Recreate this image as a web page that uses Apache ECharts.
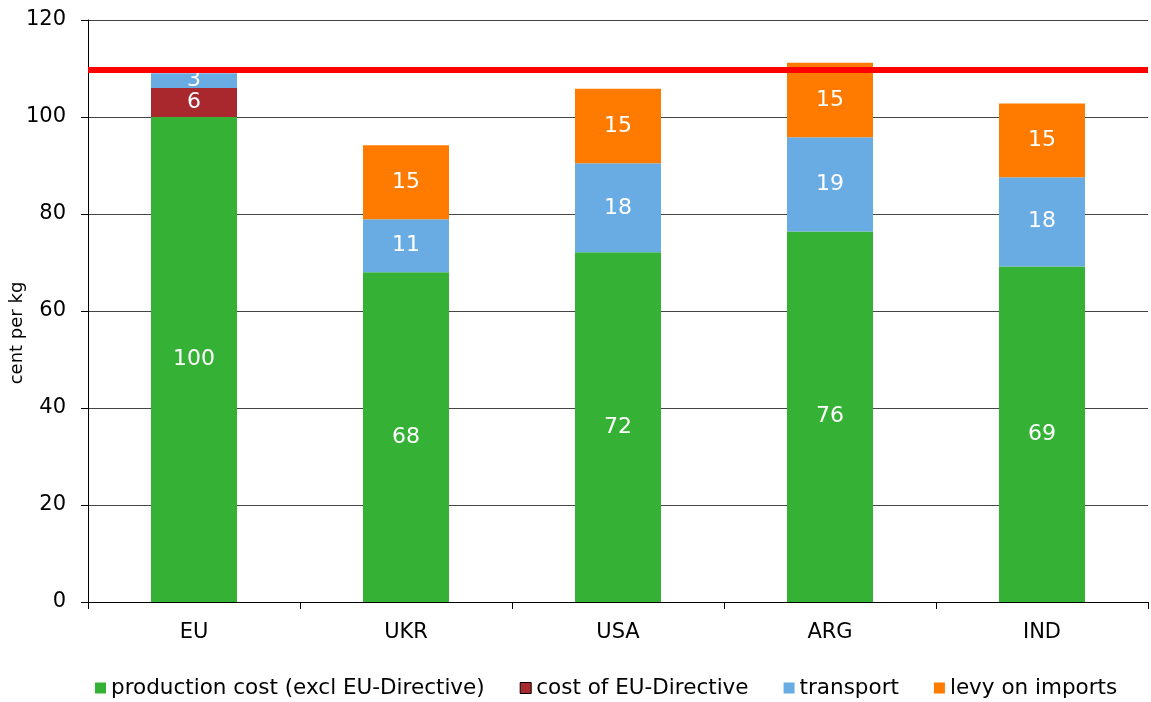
<!DOCTYPE html>
<html>
<head>
<meta charset="utf-8">
<script src="https://cdn.jsdelivr.net/npm/echarts@6/dist/echarts.min.js"></script>
<style>
html,body{margin:0;padding:0;background:#fff;}
#chart{width:1151px;height:702px;}
</style>
</head>
<body>
<div id="chart"></div>
<script>
var categories = ['EU', 'UKR', 'USA', 'ARG', 'IND'];
var productionCost = [100, 68, 72.1, 76.4, 69.2];
var euDirective = [6, 0, 0, 0, 0];
var transport = [3, 10.9, 18.35, 19.4, 18.4];
var levy = [0, 15.3, 15.35, 15.4, 15.2];
var referenceLine = 109.7;
var yTicks = [0, 20, 40, 60, 80, 100, 120];

var FONT = "'DejaVu Sans', Verdana, sans-serif";

function labelCfg() {
  return {
    show: true,
    position: 'inside',
    color: '#ffffff',
    fontSize: 22,
    fontFamily: FONT,
    formatter: function (p) { return p.value > 0 ? String(Math.round(p.value)) : ''; }
  };
}

function barSeries(name, data, color, extra) {
  var s = {
    name: name,
    type: 'bar',
    stack: 'total',
    barWidth: 86,
    data: data.map(function (v) { return v > 0 ? v : null; }),
    itemStyle: { color: color },
    label: labelCfg(),
    emphasis: { disabled: true }
  };
  if (extra) { for (var k in extra) s[k] = extra[k]; }
  return s;
}

var chart = echarts.init(document.getElementById('chart'), null, { renderer: 'canvas' });
chart.setOption({
  animation: false,
  textStyle: { fontFamily: FONT },
  grid: { left: 88, right: 3, top: 20, bottom: 100, containLabel: false, outerBoundsMode: 'none' },
  legend: {
    left: 90,
    top: 672,
    icon: 'rect',
    itemWidth: 11,
    itemHeight: 11,
    itemGap: 35,
    textStyle: { fontSize: 21.5, color: '#000', fontFamily: FONT },
    data: [
      { name: 'production cost (excl EU-Directive)' },
      { name: 'cost of EU-Directive', itemStyle: { borderColor: '#000', borderWidth: 1 } },
      { name: 'transport' },
      { name: 'levy on imports' }
    ]
  },
  xAxis: {
    type: 'category',
    data: categories,
    boundaryGap: true,
    axisLine: { lineStyle: { color: '#000', width: 1 } },
    axisTick: { show: true, alignWithLabel: false, length: 7, lineStyle: { color: '#000' } },
    axisLabel: { fontSize: 21, color: '#000', margin: 20, fontFamily: FONT }
  },
  yAxis: {
    type: 'value',
    min: yTicks[0],
    max: yTicks[yTicks.length - 1],
    interval: 20,
    name: 'cent per kg',
    nameLocation: 'middle',
    nameGap: 62,
    nameRotate: 90,
    nameMoveOverlap: false,
    nameTextStyle: { fontSize: 18, color: '#000', fontFamily: FONT, padding: [0, 44, 0, 0] },
    axisLine: { show: true, lineStyle: { color: '#000', width: 1 } },
    axisTick: { show: true, length: 7, lineStyle: { color: '#000' } },
    axisLabel: { fontSize: 21, color: '#000', margin: 22, fontFamily: FONT },
    splitLine: { show: true, lineStyle: { color: '#444', width: 1 } }
  },
  series: [
    barSeries('production cost (excl EU-Directive)', productionCost, '#35b235'),
    barSeries('cost of EU-Directive', euDirective, '#a8282e'),
    barSeries('transport', transport, '#69ace3'),
    barSeries('levy on imports', levy, '#ff7b00', {
      markLine: {
        silent: true,
        symbol: ['none', 'none'],
        label: { show: false },
        lineStyle: { color: '#ff0000', width: 6, type: 'solid' },
        data: [{ yAxis: referenceLine }],
        z: 10
      }
    })
  ]
});
</script>
</body>
</html>
